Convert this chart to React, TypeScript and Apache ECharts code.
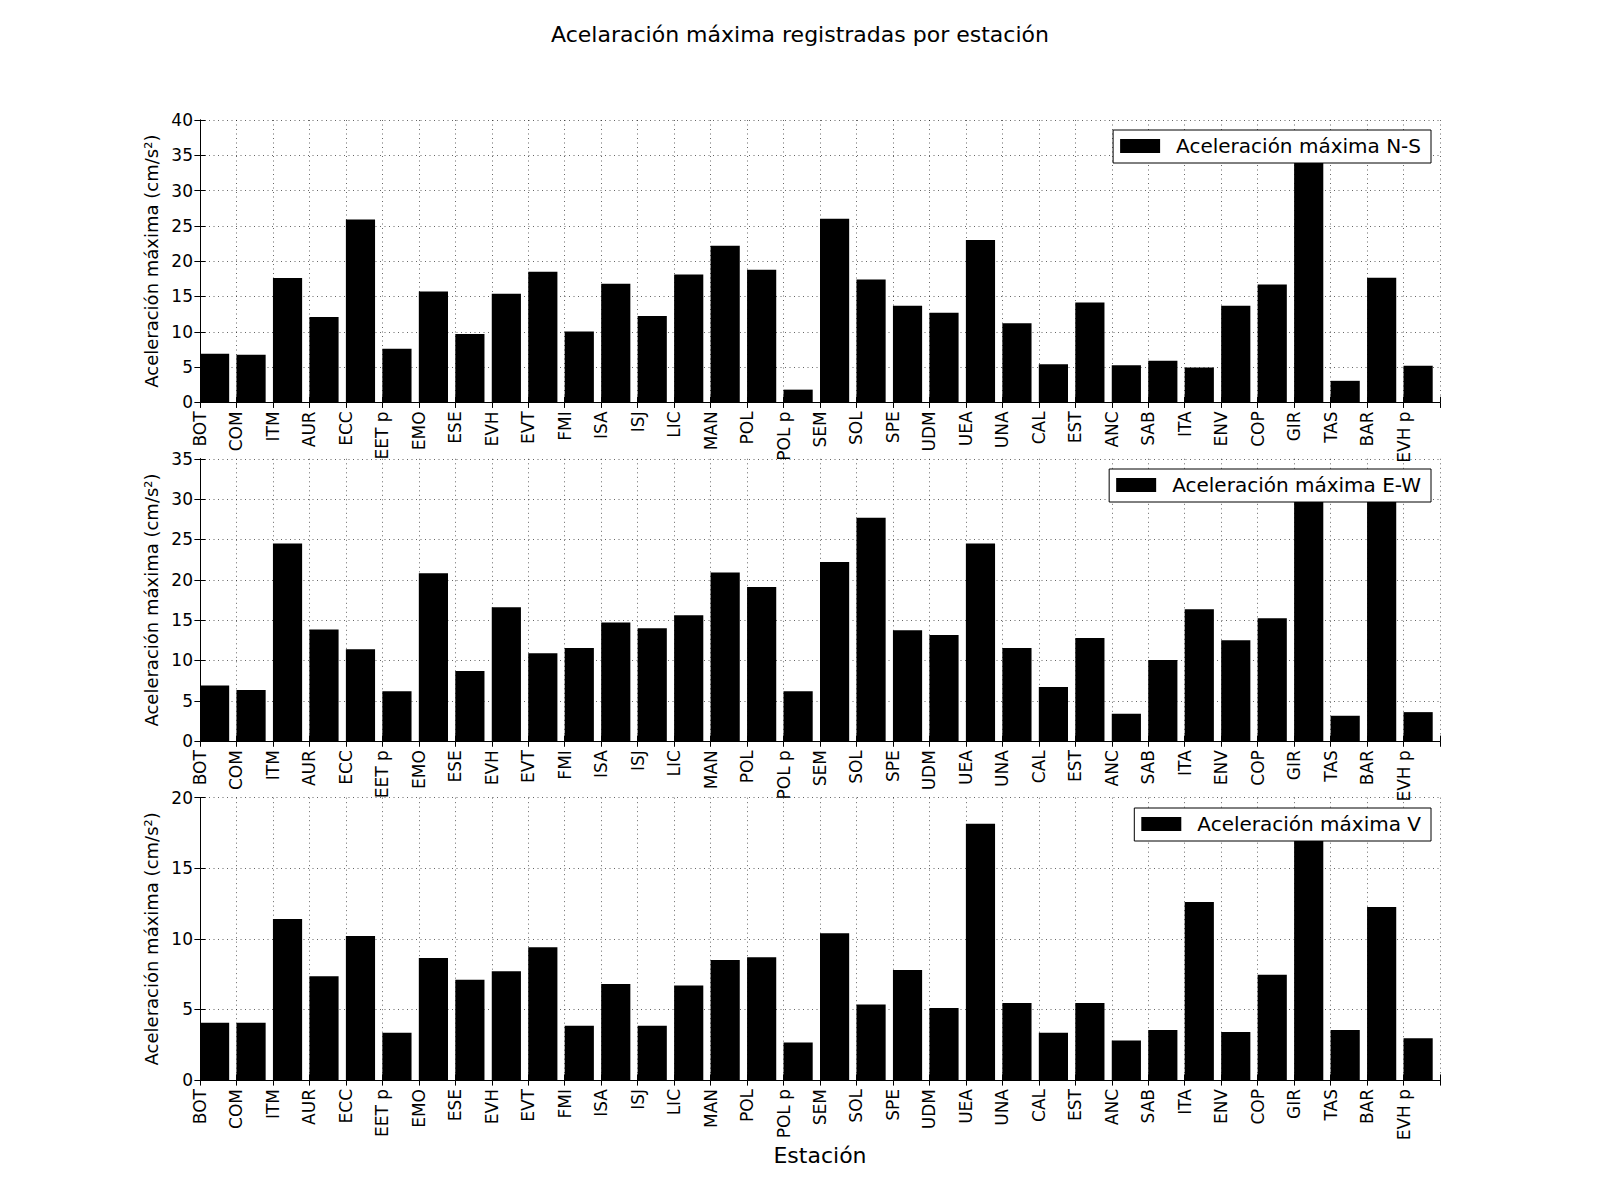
import React, { useEffect, useRef } from "react";
import * as echarts from "echarts";

const categories = [
  "BOT", "COM", "ITM", "AUR", "ECC", "EET p", "EMO", "ESE", "EVH", "EVT", "FMI", "ISA",
  "ISJ", "LIC", "MAN", "POL", "POL p", "SEM", "SOL", "SPE", "UDM", "UEA", "UNA", "CAL",
  "EST", "ANC", "SAB", "ITA", "ENV", "COP", "GIR", "TAS", "BAR", "EVH p",
];

const nsValues = [
  6.9, 6.75, 17.6, 12.1, 25.9, 7.6, 15.7, 9.7, 15.4, 18.5, 10.05, 16.8,
  12.25, 18.1, 22.2, 18.8, 1.8, 26.0, 17.4, 13.7, 12.7, 23.0, 11.2, 5.4,
  14.15, 5.25, 5.9, 4.95, 13.7, 16.7, 38.0, 3.05, 17.65, 5.2,
];

const ewValues = [
  6.9, 6.35, 24.5, 13.85, 11.4, 6.2, 20.8, 8.7, 16.6, 10.9, 11.55, 14.7,
  14.0, 15.6, 20.9, 19.1, 6.2, 22.2, 27.7, 13.75, 13.15, 24.5, 11.55, 6.7,
  12.8, 3.4, 10.05, 16.35, 12.5, 15.25, 32.0, 3.15, 31.0, 3.6,
];

const vValues = [
  4.05, 4.05, 11.4, 7.35, 10.2, 3.35, 8.65, 7.1, 7.7, 9.4, 3.85, 6.8,
  3.85, 6.7, 8.5, 8.7, 2.65, 10.4, 5.35, 7.8, 5.1, 18.15, 5.45, 3.35,
  5.45, 2.8, 3.55, 12.6, 3.4, 7.45, 19.0, 3.55, 12.25, 2.95,
];

const seriesNames = [
  "Aceleración máxima N-S",
  "Aceleración máxima E-W",
  "Aceleración máxima V",
];
const yMaxes = [40, 35, 20];
const yTickStep = 5;
const titleText = "Acelaración máxima registradas por estación";
const yAxisTitle = "Aceleración máxima (cm/s²)";
const xAxisTitle = "Estación";

const FONT = "'DejaVu Sans', sans-serif";
const gridTops = [120, 458.82, 797.65];
const gridHeight = 282.35;
const legendTops = [130, 469, 808];

export default function App() {
  const ref = useRef<HTMLDivElement>(null);

  useEffect(() => {
    if (!ref.current) return;
    const chart = echarts.init(ref.current, null, { renderer: "svg" });
    const allValues = [nsValues, ewValues, vValues];
    const n = categories.length;

    const grids = gridTops.map((t) => ({ left: 200, width: 1240, top: t, height: gridHeight }));

    const dotted = { color: "#000", width: 0.6, type: [1, 3.5] as any };
    const tick = { show: true, inside: true, length: 5.6, lineStyle: { color: "#000", width: 1 } };
    const line = { show: true, lineStyle: { color: "#000", width: 1 } };

    const xAxes: any[] = [];
    const yAxes: any[] = [];
    gridTops.forEach((_, k) => {
      xAxes.push({
        type: "value",
        gridIndex: k,
        min: 0,
        max: n,
        interval: 1,
        position: "bottom",
        axisLine: line,
        axisTick: tick,
        splitLine: { show: true, lineStyle: dotted },
        axisLabel: {
          rotate: 90,
          margin: 9,
          fontSize: 17,
          color: "#000",
          fontFamily: FONT,
          formatter: (v: number) => categories[Math.round(v)] ?? "",
        },
        name: k === 2 ? xAxisTitle : "",
        nameLocation: "middle",
        nameGap: 54,
        nameTextStyle: { fontSize: 22, color: "#000", fontFamily: FONT },
      });
      yAxes.push({
        type: "value",
        gridIndex: k,
        min: 0,
        max: yMaxes[k],
        interval: yTickStep,
        position: "left",
        axisLine: line,
        axisTick: tick,
        splitLine: { show: true, lineStyle: dotted },
        axisLabel: { margin: 7, fontSize: 17, color: "#000", fontFamily: FONT },
        name: yAxisTitle,
        nameLocation: "middle",
        nameGap: 32,
        nameTextStyle: { fontSize: 18, color: "#000", fontFamily: FONT },
      });
    });
    gridTops.forEach((_, k) => {
      xAxes.push({
        type: "value",
        gridIndex: k,
        min: 0,
        max: n,
        interval: 1,
        position: "top",
        axisLine: line,
        axisTick: tick,
        splitLine: { show: false },
        axisLabel: { show: false },
      });
      yAxes.push({
        type: "value",
        gridIndex: k,
        min: 0,
        max: yMaxes[k],
        interval: yTickStep,
        position: "right",
        axisLine: line,
        axisTick: tick,
        splitLine: { show: false },
        axisLabel: { show: false },
      });
    });

    const series = allValues.map((vals, k) => ({
      type: "custom",
      name: seriesNames[k],
      xAxisIndex: k,
      yAxisIndex: k,
      itemStyle: { color: "#000" },
      encode: { x: 0, y: 1 },
      data: vals.map((v, i) => [i, v]),
      renderItem: (params: any, api: any) => {
        const x0 = api.value(0);
        const val = api.value(1);
        const p1 = api.coord([x0, val]);
        const p2 = api.coord([x0 + 0.8, 0]);
        const cs = params.coordSys;
        const shape = echarts.graphic.clipRectByRect(
          { x: p1[0], y: p1[1], width: p2[0] - p1[0], height: p2[1] - p1[1] },
          { x: cs.x, y: cs.y, width: cs.width, height: cs.height }
        );
        if (!shape) return null;
        return { type: "rect", shape, style: { fill: "#000" } };
      },
    }));

    const legends = seriesNames.map((name, k) => ({
      data: [{ name, icon: "rect" }],
      right: 169,
      top: legendTops[k],
      orient: "horizontal",
      selectedMode: false,
      backgroundColor: "#fff",
      borderColor: "#000",
      borderWidth: 1,
      borderRadius: 0,
      padding: [6, 10, 7, 7],
      itemWidth: 40,
      itemHeight: 14,
      z: 100,
      textStyle: {
        fontSize: 20,
        color: "#000",
        fontFamily: FONT,
        lineHeight: 20,
        padding: [0, 0, 0, 11],
      },
    }));

    chart.setOption({
      animation: false,
      backgroundColor: "#fff",
      title: {
        text: titleText,
        left: "center",
        top: 23,
        padding: 0,
        textStyle: { fontSize: 22, fontWeight: "normal", color: "#000", fontFamily: FONT, lineHeight: 22 },
      },
      grid: grids,
      xAxis: xAxes,
      yAxis: yAxes,
      legend: legends,
      series,
    } as any);

    return () => chart.dispose();
  }, []);

  return (
    <div
      ref={ref}
      style={{ position: "absolute", left: 0, top: 0, width: 1600, height: 1200, background: "#fff" }}
    />
  );
}
